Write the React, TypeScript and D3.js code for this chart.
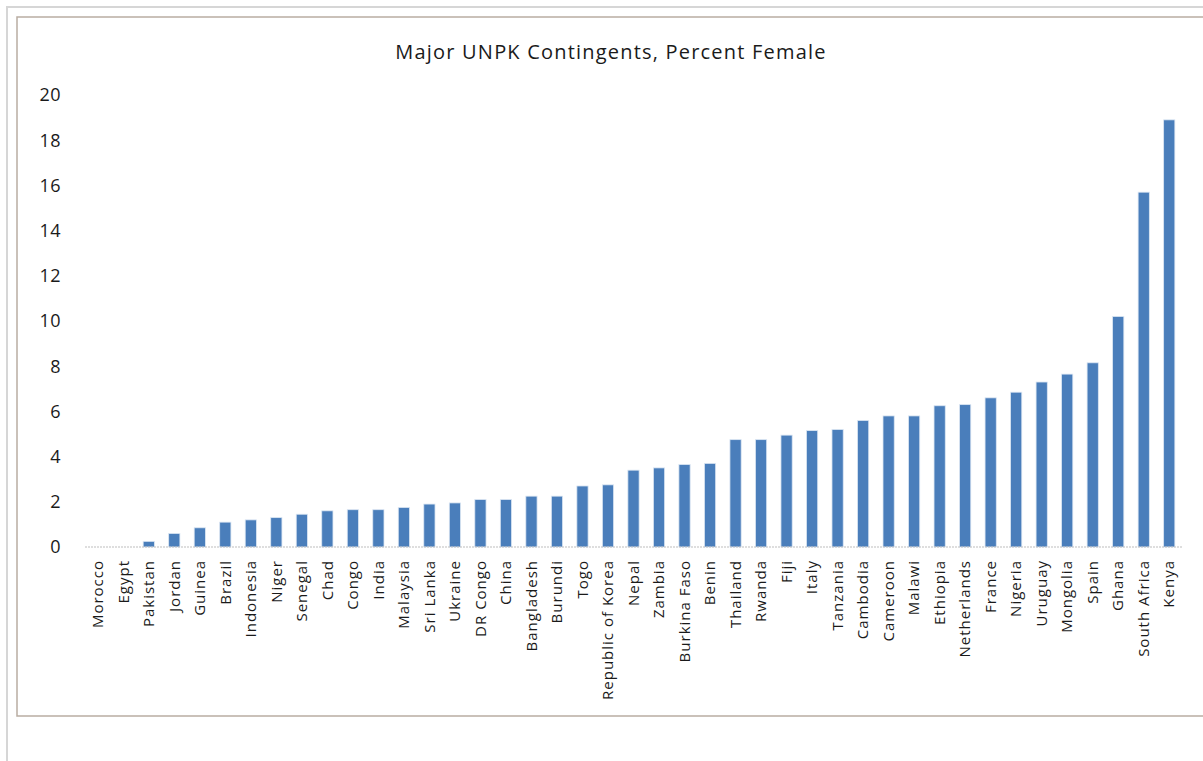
import { useEffect, useRef } from 'react';
import * as d3 from 'd3';

const countries = [
  'Morocco', 'Egypt', 'Pakistan', 'Jordan', 'Guinea', 'Brazil', 'Indonesia', 'Niger',
  'Senegal', 'Chad', 'Congo', 'India', 'Malaysia', 'Sri Lanka', 'Ukraine', 'DR Congo',
  'China', 'Bangladesh', 'Burundi', 'Togo', 'Republic of Korea', 'Nepal', 'Zambia',
  'Burkina Faso', 'Benin', 'Thailand', 'Rwanda', 'Fiji', 'Italy', 'Tanzania', 'Cambodia',
  'Cameroon', 'Malawi', 'Ethiopia', 'Netherlands', 'France', 'Nigeria', 'Uruguay',
  'Mongolia', 'Spain', 'Ghana', 'South Africa', 'Kenya'
];

const percentFemale = [
  0, 0, 0.25, 0.6, 0.85, 1.1, 1.2, 1.3,
  1.45, 1.6, 1.65, 1.65, 1.75, 1.9, 1.95, 2.1,
  2.1, 2.25, 2.25, 2.7, 2.75, 3.4, 3.5,
  3.65, 3.7, 4.75, 4.75, 4.95, 5.15, 5.2, 5.6,
  5.8, 5.8, 6.25, 6.3, 6.6, 6.85, 7.3,
  7.65, 8.15, 10.2, 15.7, 18.9
];

const yTicks = [0, 2, 4, 6, 8, 10, 12, 14, 16, 18, 20];

const FONT = "'Open Sans', 'Liberation Sans', sans-serif";

export default function App() {
  const svgRef = useRef<SVGSVGElement>(null);

  useEffect(() => {
    if (!svgRef.current) return;
    const svg = d3.select(svgRef.current);
    svg.selectAll('*').remove();

    const width = 1203;
    const height = 761;

    // frames (page edge + chart area)
    svg.append('path')
      .attr('d', `M7,${height} V7 H${width}`)
      .attr('fill', 'none')
      .attr('stroke', '#d6d6d6')
      .attr('stroke-width', 2);
    svg.append('rect')
      .attr('x', 17).attr('y', 17)
      .attr('width', width + 20).attr('height', 699)
      .attr('fill', '#fff')
      .attr('stroke', '#b9ada2')
      .attr('stroke-width', 1.5);

    const x = d3.scaleBand<string>()
      .domain(countries)
      .range([85, 1182])
      .paddingInner(0.56)
      .paddingOuter(0.28);

    const y = d3.scaleLinear().domain([0, 20]).range([547, 95]);

    // title
    svg.append('text')
      .attr('x', 611).attr('y', 59)
      .attr('text-anchor', 'middle')
      .attr('font-family', FONT)
      .attr('font-size', 20)
      .attr('letter-spacing', 1.2)
      .attr('fill', '#1a1a1a')
      .text('Major UNPK Contingents, Percent Female');

    // y tick labels
    svg.append('g')
      .selectAll('text')
      .data(yTicks)
      .join('text')
      .attr('x', 61)
      .attr('y', d => y(d))
      .attr('dy', '0.35em')
      .attr('text-anchor', 'end')
      .attr('font-family', FONT)
      .attr('font-size', 18)
      .attr('letter-spacing', 0.5)
      .attr('fill', '#1a1a1a')
      .text(d => d);

    // bars
    svg.append('g')
      .selectAll('rect')
      .data(countries)
      .join('rect')
      .attr('x', d => x(d)!)
      .attr('y', (d, i) => y(percentFemale[i]))
      .attr('width', x.bandwidth())
      .attr('height', (d, i) => y(0) - y(percentFemale[i]))
      .attr('fill', '#4a7ebb')
      .attr('stroke', '#dbe6f3')
      .attr('stroke-width', 0.8);

    // baseline
    svg.append('line')
      .attr('x1', 85).attr('x2', 1182)
      .attr('y1', y(0)).attr('y2', y(0))
      .attr('stroke', '#bdbdbd')
      .attr('stroke-width', 1)
      .attr('stroke-dasharray', '2,1');

    // category labels
    svg.append('g')
      .selectAll('text')
      .data(countries)
      .join('text')
      .attr('transform', d => `translate(${x(d)! + x.bandwidth() / 2},560) rotate(-90)`)
      .attr('dy', '0.35em')
      .attr('text-anchor', 'end')
      .attr('font-family', FONT)
      .attr('font-size', 15)
      .attr('letter-spacing', 1)
      .attr('fill', '#1a1a1a')
      .text(d => d);
  }, []);

  return (
    <div style={{ position: 'absolute', left: 0, top: 0 }}>
      <svg ref={svgRef} width={1203} height={761} style={{ display: 'block', background: '#fff' }} />
    </div>
  );
}
